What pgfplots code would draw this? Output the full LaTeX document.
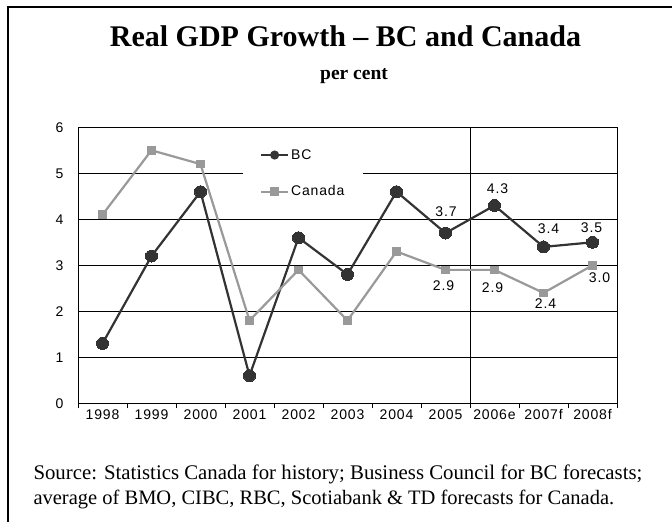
\documentclass[border=0pt]{standalone}
\usepackage{fontspec}
\setmainfont{Liberation Serif}
\newfontfamily\labfont[LetterSpace=6]{Liberation Sans}
\usepackage{pgfplots}
\usepackage{pgfplotstable}
\pgfplotsset{compat=1.18}
\definecolor{bcc}{HTML}{333333}
\definecolor{cac}{HTML}{999999}

\pgfplotstableread{
x y
0 1.3
1 3.2
2 4.6
3 0.6
4 3.6
5 2.8
6 4.6
7 3.7
8 4.3
9 3.4
10 3.5
}\bcdata

\pgfplotstableread{
x y
0 4.1
1 5.5
2 5.2
3 1.8
4 2.9
5 1.8
6 3.3
7 2.9
8 2.9
9 2.4
10 3.0
}\cadata

\pgfplotstableread{
x y lab dx dy
7 3.7 3.7 0.5 21
8 4.3 4.3 3 17
9 3.4 3.4 5 18
10 3.5 3.5 -1 15
}\bclab

\pgfplotstableread{
x y lab dx dy
7 2.9 2.9 -2 -16
8 2.9 2.9 -2 -18
9 2.4 2.4 2 -11
10 3.0 3.0 7 -12
}\calab

\begin{document}
\begin{tikzpicture}
\useasboundingbox (0pt,0pt) rectangle (672pt,522pt);
\draw[line width=2pt] (8pt,0pt) -- (8pt,515pt) -- (672pt,515pt);
\node[anchor=base, font=\bfseries\fontsize{30}{30}\selectfont] at (345.5pt,475pt) {Real GDP Growth – BC and Canada};
\node[anchor=base, font=\bfseries\fontsize{19.5}{19.5}\selectfont] at (354pt,442pt) {per cent};
\begin{axis}[
  at={(78pt,118.7pt)}, anchor=south west,
  scale only axis, width=539pt, height=276pt,
  xmin=-0.5, xmax=10.5, ymin=0, ymax=6,
  xtick={0,...,10},
  xticklabels={1998,1999,2000,2001,2002,2003,2004,2005,2006e,2007f,2008f},
  minor xtick={-0.5,0.5,...,10.5},
  ytick={0,...,6},
  tick pos=left, tick align=outside,
  major tick length=0pt, minor tick length=5pt,
  minor tick style={black, line width=0.8pt},
  ymajorgrids, grid style={black, line width=0.8pt},
  axis line style={black, line width=0.8pt},
  extra x ticks={7.5}, extra x tick labels={},
  extra x tick style={grid=major},
  /pgf/number format/assume math mode=true,
  ticklabel style={font=\labfont\fontsize{14}{14}\selectfont},
  xticklabel style={yshift=-3pt},
  yticklabel style={xshift=-11pt},
  legend style={at={(rel axis cs:0.306,0.946)}, anchor=north west,
    draw=none, fill=white, inner xsep=17pt, inner ysep=5pt,
    row sep=21pt, font=\labfont\fontsize{14}{14}\selectfont,
    legend cell align=left},
]
\addplot[bcc, line width=2.2pt, mark=*, mark size=6pt, mark options={fill=bcc, draw=bcc, line width=0pt},
  legend image code/.code={\draw[bcc, line width=2pt] (0pt,0pt) -- (27pt,0pt); \fill[bcc] (13.5pt,0pt) circle (3.4pt);}]
  table[x=x,y=y] {\bcdata};
\addlegendentry{BC}
\addplot[cac, line width=2.2pt, mark=square*, mark size=3.8pt, mark options={fill=cac, draw=cac, line width=0pt},
  legend image code/.code={\draw[cac, line width=2pt] (0pt,0pt) -- (27pt,0pt); \fill[cac] (10.3pt,-3.2pt) rectangle (16.7pt,3.2pt);}]
  table[x=x,y=y] {\cadata};
\addlegendentry{Canada}
\addplot[draw=none, mark=none, forget plot,
  visualization depends on={\thisrow{dx}\as\dx},
  visualization depends on={\thisrow{dy}\as\dy},
  point meta=explicit symbolic, nodes near coords,
  nodes near coords style={anchor=center, xshift=\dx pt, yshift=\dy pt, text=black, font=\labfont\fontsize{14}{14}\selectfont}]
  table[x=x,y=y,meta=lab] {\bclab};
\addplot[draw=none, mark=none, forget plot,
  visualization depends on={\thisrow{dx}\as\dx},
  visualization depends on={\thisrow{dy}\as\dy},
  point meta=explicit symbolic, nodes near coords,
  nodes near coords style={anchor=center, xshift=\dx pt, yshift=\dy pt, text=black, font=\labfont\fontsize{14}{14}\selectfont}]
  table[x=x,y=y,meta=lab] {\calab};
\end{axis}
\node[anchor=base west, font=\fontsize{20.8}{20.8}\selectfont] at (30pt,42pt) {Source: Statistics Canada for history; Business Council for BC forecasts;};
\node[anchor=base west, font=\fontsize{20.5}{20.5}\selectfont] at (30pt,17pt) {average of BMO, CIBC, RBC, Scotiabank \& TD forecasts for Canada.};
\end{tikzpicture}
\end{document}
